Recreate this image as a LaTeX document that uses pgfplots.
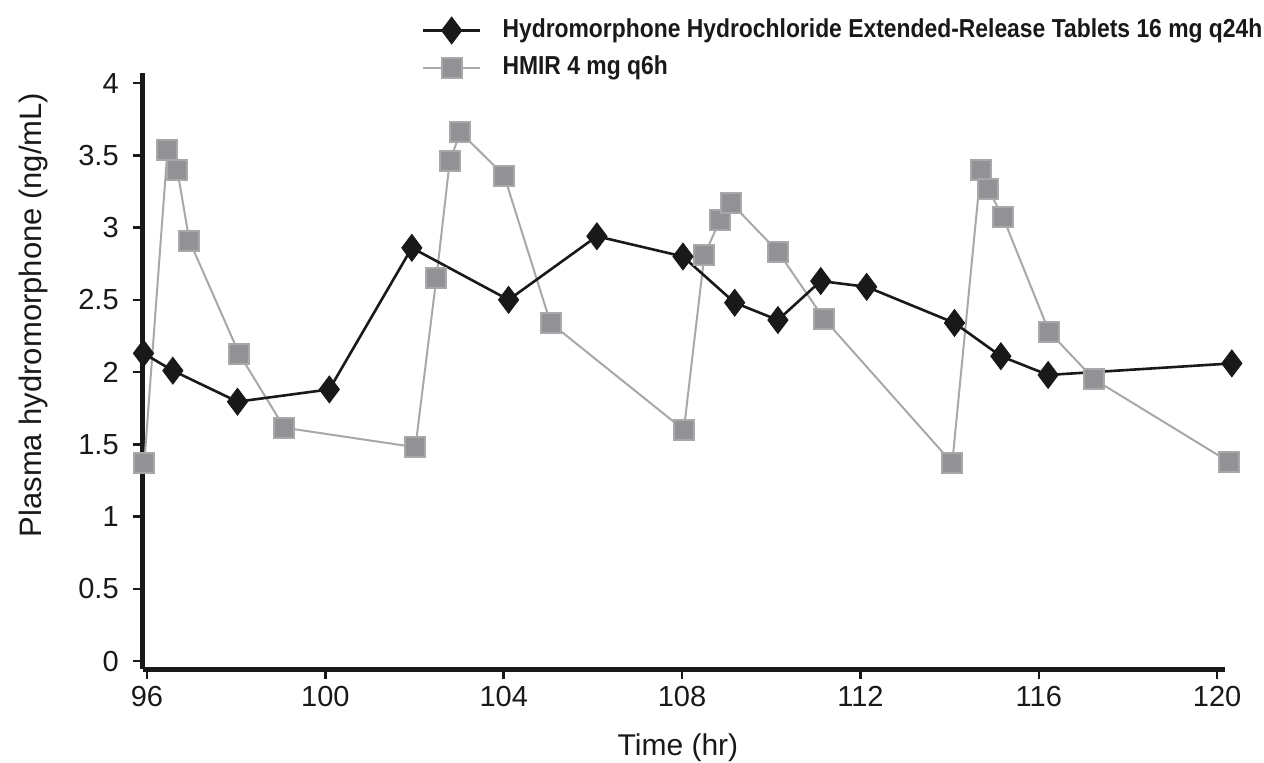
\documentclass[border=0pt]{standalone}
\usepackage{fontspec}
\setmainfont{Liberation Sans}
\newfontfamily\condfont[FakeStretch=0.88]{Liberation Sans}
\usepackage{pgfplots}
\pgfplotsset{compat=1.18}
\definecolor{sqgray}{RGB}{146,146,150}
\definecolor{lngray}{RGB}{168,168,168}
\definecolor{dk}{RGB}{25,25,25}
\begin{document}
\begin{tikzpicture}
\useasboundingbox (0,0) rectangle (632pt,-381.5pt);
\begin{axis}[
  at={(71.35pt,-36.5pt)}, anchor=north west,
  scale only axis, width=541pt, height=298pt,
  xmin=95.904, xmax=120.17, ymin=-0.055, ymax=4.07,
  axis x line=bottom, axis y line=left,
  axis line style={line width=2.5pt, -, dk},
  clip=false,
  xtick={96,100,...,120},
  ytick={0,0.5,1,1.5,2,2.5,3,3.5,4},
  yticklabels={0,0.5,1,1.5,2,2.5,3,3.5,4},
  tick align=outside,
  major tick length=5pt,
  tick style={line width=1.2pt, dk},
  tick label style={font=\fontsize{14.5}{16}\selectfont, text=dk},
  yticklabel style={xshift=-3.5pt},
  /pgf/number format/assume math mode=true,
  xlabel={Time (hr)},
  ylabel={Plasma hydromorphone (ng/mL)},
  xlabel style={font=\fontsize{15}{17}\selectfont, text=dk, at={(axis description cs:0.4947,-0.1326)}, anchor=center},
  ylabel style={font=\fontsize{15.5}{17}\selectfont, text=dk, at={(axis description cs:-0.1014,0.594)}, anchor=center},
  reverse legend,
  legend cell align=left,
  legend style={at={(axis description cs:0.2579,1.094)}, anchor=north west, draw=none, fill=none,
    inner sep=0pt, outer sep=0pt, row sep=5.5pt, column sep=10.5pt,
    font=\condfont\bfseries\fontsize{13}{13}\selectfont,
    nodes={inner sep=0pt, text height=10pt, text depth=3pt, text=dk}},
  legend image code/.code={\draw[mark repeat=2,mark phase=2,#1] plot coordinates {(0pt,0pt) (14.3pt,0pt) (28.6pt,0pt)};},
]
\addplot[lngray, line width=1pt, mark=square*, mark size=5pt, mark options={fill=sqgray, draw=none}] coordinates {
 (95.94,1.37) (96.46,3.54) (96.68,3.40) (96.95,2.91) (98.07,2.125) (99.08,1.615)
 (102.02,1.48) (102.49,2.65) (102.79,3.46) (103.03,3.66) (104.01,3.36) (105.05,2.34)
 (108.04,1.60) (108.50,2.81) (108.85,3.05) (109.10,3.17) (110.16,2.83) (111.18,2.37)
 (114.06,1.37) (114.70,3.40) (114.86,3.27) (115.20,3.07) (116.23,2.28) (117.24,1.95)
 (120.26,1.38)
};
\addlegendentry{HMIR 4 mg q6h}
\addplot[dk, line width=1.3pt, mark=diamond*, mark size=6.75pt, mark options={fill=dk, draw=dk, line width=0.4pt}] coordinates {
 (95.92,2.13) (96.58,2.01) (98.03,1.795) (100.09,1.88) (101.94,2.86) (104.11,2.50)
 (106.09,2.94) (108.02,2.80) (109.18,2.48) (110.15,2.36) (111.11,2.63) (112.14,2.59)
 (114.11,2.34) (115.15,2.11) (116.21,1.98) (120.33,2.06)
};
\addlegendentry{Hydromorphone Hydrochloride Extended-Release Tablets 16 mg q24h}
\end{axis}
\end{tikzpicture}
\end{document}
